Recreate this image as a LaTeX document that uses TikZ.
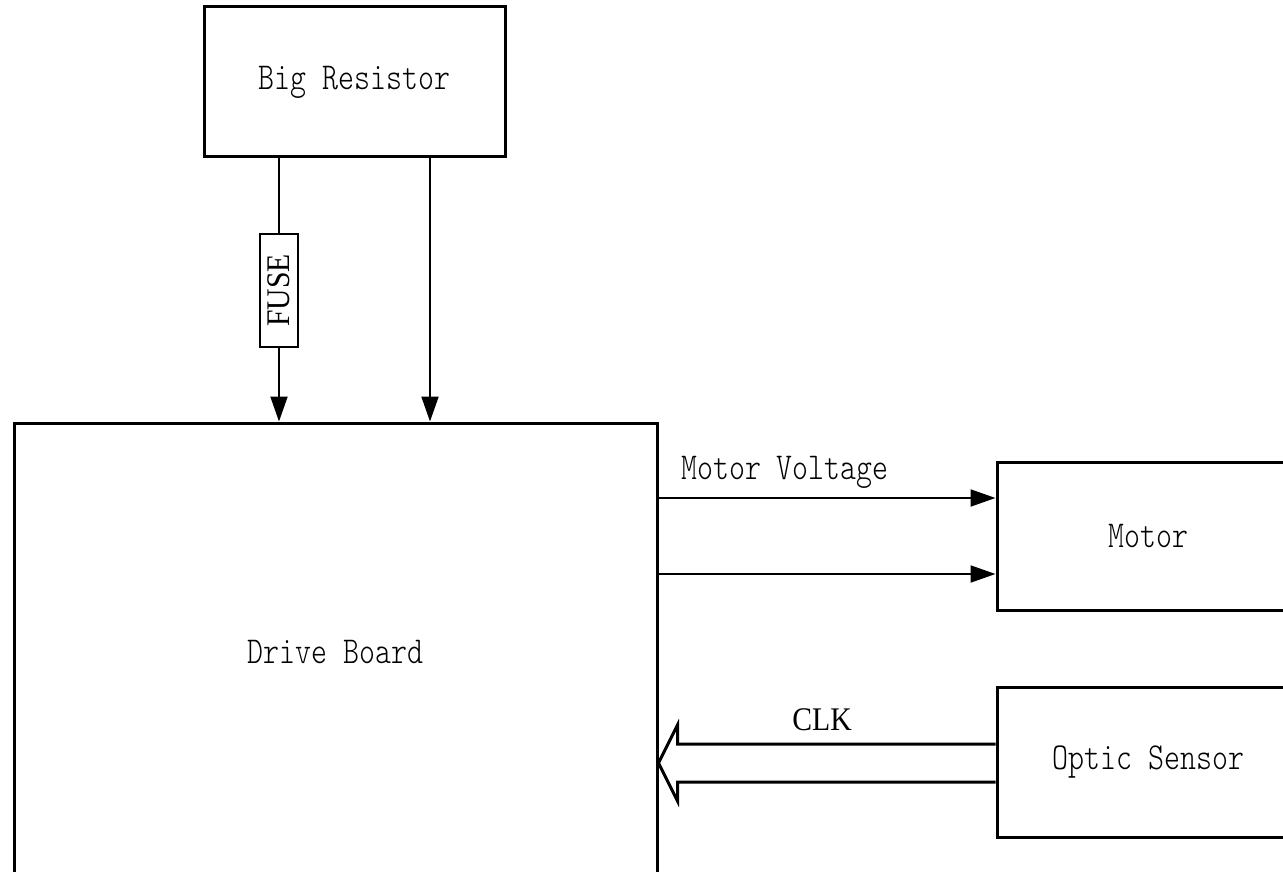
\documentclass[tikz,border=0pt]{standalone}
\usepackage{fontspec}
\newfontfamily\monofont[FakeStretch=0.8]{Latin Modern Mono Light}
\newfontfamily\seriffont[FakeStretch=0.9]{Liberation Serif}
\usetikzlibrary{arrows.meta}
\begin{document}
\begin{tikzpicture}[x=1pt,y={(0pt,-1pt)},
  blk/.style={draw, line width=3pt, inner sep=0pt, font=\monofont\fontsize{38}{44}\selectfont},
  lbl/.style={inner sep=0pt, font=\monofont\fontsize{38}{44}\selectfont},
  slbl/.style={inner sep=0pt, font=\seriffont\fontsize{33}{38}\selectfont},
  wire/.style={line width=2pt},
  arr/.style={-{Triangle[length=25pt,width=17pt]}},
  fat/.style={line width=3pt, line join=miter}]
\useasboundingbox (0,0) rectangle (1283,872);
\clip (0,0) rectangle (1283,872);
% blocks
\node[blk, minimum width=301pt, minimum height=150pt] (br) at (354.5,82) {Big Resistor};
\node[blk, minimum width=643pt, minimum height=458pt] (db) at (335.5,652) {Drive Board};
\node[blk, minimum width=303pt, minimum height=148pt] (motor) at (1148.5,536) {Motor};
\node[blk, minimum width=303pt, minimum height=150pt] (optic) at (1148.5,762) {Optic Sensor};
\node[draw, line width=1.5pt, inner sep=0pt, minimum width=113pt, minimum height=38pt, rotate=90, slbl] (fuse) at (279,290.5) {FUSE};
% helper coordinates
\coordinate (r2) at (430,0);
\coordinate (mv1) at (800,498);
\coordinate (mv2) at (800,574);
\coordinate (ck1) at (800,744);
\coordinate (ck2) at (800,782);
\coordinate (ckm) at (800,763);
% Big Resistor -> Drive Board
\draw[wire] (br.south -| fuse.center) -- (fuse.east);
\draw[wire, arr] (fuse.west) -- (fuse.west |- db.north);
\draw[wire, arr] (br.south -| r2) -- (db.north -| r2);
% Drive Board -> Motor
\draw[wire, arr] (db.east |- mv1) -- (motor.west |- mv1);
\draw[wire, arr] (db.east |- mv2) -- (motor.west |- mv2);
\node[lbl, anchor=base west] (mvlabel) at (681,479) {Motor Voltage};
% Optic Sensor -> Drive Board (CLK), hollow wide arrow
\draw[fat] (optic.west |- ck1) -- ([xshift=19pt]db.east |- ck1) -- ++(0,-19)
  -- (db.east |- ckm) -- ([xshift=19pt,yshift=-19pt]db.east |- ck2) -- ++(0,-19)
  -- (optic.west |- ck2);
\node[slbl, anchor=base] (clklabel) at (822,730) {CLK};
\end{tikzpicture}
\end{document}
